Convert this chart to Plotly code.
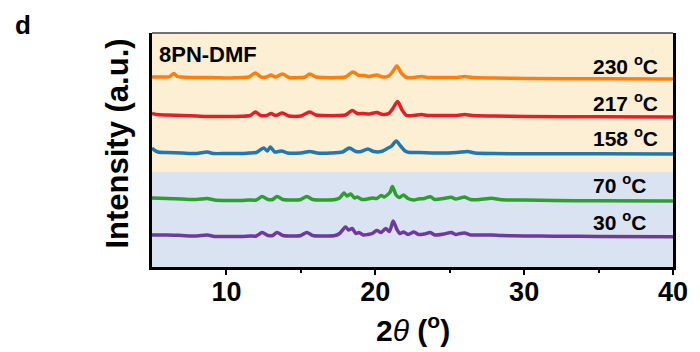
import plotly.graph_objects as go

# ---- data (2theta in degrees, intensity in a.u. relative to each pattern's baseline) ----
labels = ["230 °C", "217 °C", "158 °C", "70 °C", "30 °C"]
offsets = [188, 150, 113, 66, 30]
label_y = [202, 165, 130, 83, 46]

x_230 = [5.0, 5.5, 6.0, 6.2, 6.46, 6.7, 7.0, 8.0, 9.0, 10.0, 10.6, 11.0, 11.5, 11.95, 12.3, 12.7, 13.0, 13.3,
         13.76, 14.2, 15.0, 15.3, 15.6, 16.0, 16.5, 17.5, 18.0, 18.5, 18.9, 19.25, 19.6, 20.1, 20.5, 20.9,
         21.15, 21.45, 21.75, 22.1, 22.6, 23.1, 23.5, 24.5, 25.5, 26.0, 26.5, 28.0, 30.0, 35.0, 40.0]
y_230 = [2, 2, 2, 2.5, 5.5, 2.5, 2, 1.5, 1.5, 1, 1.2, 1.5, 2, 6, 2, 2, 4, 2,
         5, 1.5, 1.5, 2, 5, 2, 1.5, 1.5, 2, 7, 3.5, 3.5, 2.5, 4, 2, 3,
         7, 13, 6, 1.5, 1.5, 2.5, 1.5, 1.5, 1.5, 2.5, 1.5, 1, 0.5, 0.3, 0]

x_217 = [5.0, 5.3, 6.0, 7.0, 8.0, 9.0, 10.0, 11.0, 11.6, 11.95, 12.3, 12.7, 13.0, 13.3, 13.76, 14.2, 15.0,
         15.6, 16.0, 16.5, 17.5, 18.0, 18.45, 18.8, 19.2, 19.6, 20.1, 20.5, 20.9, 21.2, 21.5, 21.8, 22.1,
         22.6, 23.1, 23.5, 24.5, 25.5, 26.0, 26.5, 28.0, 30.0, 35.0, 40.0]
y_217 = [3.5, 2.5, 2, 1.5, 1, 0.5, 0.5, 0.8, 1.5, 5, 1.5, 1.5, 3.5, 1.5, 4, 1, 1,
         5, 2, 1.5, 1.5, 2, 6.5, 3.5, 3.5, 3, 4.5, 2.5, 3.5, 9, 15.5, 7, 1.5,
         1.5, 2.5, 1.5, 1.5, 1.5, 2.5, 1.5, 1, 0.5, 0.3, 0]

x_158 = [5.0, 5.15, 5.4, 6.0, 7.0, 8.0, 8.7, 9.1, 10.0, 11.0, 11.5, 12.0, 12.5, 12.75, 12.95, 13.25, 13.7,
         14.1, 15.0, 15.6, 16.1, 17.0, 17.8, 18.26, 18.7, 19.05, 19.5, 19.9, 20.4, 20.8, 21.1, 21.4, 21.7,
         22.0, 22.3, 23.0, 24.0, 25.5, 26.2, 26.7, 28.0, 30.0, 35.0, 40.0]
y_158 = [6, 4, 2, 1.5, 1, 0.5, 2, 0.5, 0.5, 0.5, 1, 1.5, 6, 3, 7, 2, 3,
         1, 1, 2.5, 1, 1, 2, 6, 2.5, 2.5, 5, 2.5, 2.5, 5.5, 8, 13, 8,
         3, 1.5, 1.5, 1, 1.5, 2.5, 1, 0.5, 0.3, 0.3, 0]

x_70 = [5.0, 6.0, 7.0, 8.0, 8.7, 9.2, 10.0, 11.0, 11.5, 12.0, 12.4, 12.8, 13.1, 13.4, 13.8, 14.5, 15.0, 15.4,
        15.8, 16.5, 17.3, 17.6, 17.9, 18.1, 18.35, 18.6, 18.8, 19.1, 19.5, 19.8, 20.1, 20.4, 20.6, 20.8, 21.0,
        21.15, 21.4, 21.6, 21.9, 22.2, 22.6, 22.9, 23.3, 23.7, 24.0, 24.6, 25.1, 25.4, 25.7, 26.0, 26.4,
        27.0, 27.8, 28.5, 30.0, 32.0, 35.0, 40.0]
y_70 = [3, 2.5, 2, 1.5, 2.5, 1, 0.5, 0.5, 1, 1, 4.5, 1.5, 1.5, 4.5, 1.5, 1, 1.5, 4.5,
        1.5, 1, 1.5, 3, 8, 5, 7, 3, 4, 1.5, 2, 3, 2.5, 5.5, 4, 6, 9,
        14.5, 6, 3.5, 6, 2.5, 1, 2, 2.5, 4.3, 1.5, 2.5, 3.7, 2, 3, 4, 1.5,
        1.5, 2.7, 1.2, 1, 0.5, 0.3, 0]

x_30 = [5.0, 6.0, 7.0, 8.0, 8.7, 9.2, 10.0, 11.0, 11.6, 12.0, 12.4, 12.8, 13.1, 13.4, 13.8, 14.5, 15.0, 15.4,
        15.8, 16.5, 17.3, 17.6, 18.0, 18.2, 18.45, 18.7, 18.9, 19.2, 19.5, 19.8, 20.1, 20.4, 20.7, 20.95,
        21.2, 21.45, 21.65, 21.9, 22.2, 22.6, 22.9, 23.3, 23.7, 24.0, 24.6, 25.1, 25.4, 25.7, 26.0, 26.4,
        27.0, 27.8, 28.5, 30.0, 32.0, 35.0, 40.0]
y_30 = [2, 2, 1.5, 1, 2, 0.5, 0.5, 0.5, 1, 1, 4.5, 1.5, 1.5, 4.5, 1.5, 1, 1.5, 4.5,
        1.5, 1, 1.5, 3.5, 10, 7, 8.5, 3.5, 4.5, 2, 2.5, 3.5, 6.5, 4.5, 8.5, 5.5,
        16, 7.5, 3.5, 5, 2.5, 5, 2.5, 3, 4.5, 2, 3, 4.5, 2.5, 3.5, 4, 2,
        2, 2, 1.5, 1, 0.8, 0.5, 0.3]

xs = [x_230, x_217, x_158, x_70, x_30]
ys = [y_230, y_217, y_158, y_70, y_30]
colors = ["#FF7F0E", "#E41E26", "#1F77B4", "#2CA02C", "#6F3A9E"]

x_ticks = [10, 20, 30, 40]
x_range = [5, 40]
y_range = [0, 234]
split_level = 95  # boundary between heated (beige) and low-T (blue) regions

FONT = "Liberation Sans, Arial, sans-serif"

fig = go.Figure()
for x, y, off, col, lab in zip(xs, ys, offsets, colors, labels):
    fig.add_trace(go.Scatter(x=x, y=[v + off for v in y], mode="lines", name=lab,
                             line=dict(color=col, width=3.5, shape="spline", smoothing=0.7),
                             showlegend=False, hoverinfo="skip"))

# background bands
fig.add_shape(type="rect", xref="x", yref="y", x0=x_range[0], x1=x_range[1], y0=split_level, y1=y_range[1],
              fillcolor="#FDEFD4", line_width=0, layer="below")
fig.add_shape(type="rect", xref="x", yref="y", x0=x_range[0], x1=x_range[1], y0=y_range[0], y1=split_level,
              fillcolor="#DAE3F1", line_width=0, layer="below")
# top frame line (thinner)
fig.add_shape(type="line", xref="paper", yref="paper", x0=0, x1=1, y0=1, y1=1,
              line=dict(color="#444444", width=1.5))

# temperature labels
for lab, ly in zip(labels, label_y):
    num, unit = lab.split(" ")
    fig.add_annotation(x=34.5, y=ly, xref="x", yref="y", xanchor="left", yanchor="middle",
                       text=f"<b>{num} <sup>o</sup>C</b>", showarrow=False,
                       font=dict(family=FONT, size=21, color="black"))

fig.add_annotation(x=0.01, y=1.0, xref="paper", yref="paper", xanchor="left", yanchor="top", yshift=-7,
                   text="<b>8PN-DMF</b>", showarrow=False, font=dict(family=FONT, size=22, color="black"))

# axis titles and panel letter
fig.add_annotation(x=0.5, y=-0.352, xref="paper", yref="paper", xanchor="center", yanchor="bottom",
                   text="<b>2</b><i>θ</i><b> (<sup>o</sup>)</b>", showarrow=False,
                   font=dict(family=FONT, size=30, color="black"))
fig.add_annotation(x=-0.066, y=0.526, xref="paper", yref="paper", xanchor="center", yanchor="middle",
                   text="<b>Intensity (a.u.)</b>", textangle=-90, showarrow=False,
                   font=dict(family=FONT, size=31, color="black"))
fig.add_annotation(x=-0.266, y=1.035, xref="paper", yref="paper", xanchor="left", yanchor="middle",
                   text="<b>d</b>", showarrow=False, font=dict(family=FONT, size=26, color="black"))

fig.update_layout(
    width=700, height=352,
    margin=dict(l=152, r=21, t=33, b=85),
    paper_bgcolor="white", plot_bgcolor="white",
    font=dict(family=FONT, color="black"),
)
fig.update_xaxes(range=x_range, tickvals=x_ticks, ticks="outside", ticklen=5, tickwidth=2, tickcolor="black",
                 showline=True, linewidth=2.5, linecolor="black", showgrid=False, zeroline=False,
                 ticklabelstandoff=-6,
                 tickfont=dict(family=FONT, size=27, color="black", weight="bold"),
                 minor=dict(tickvals=[15, 25, 35], ticks="outside", ticklen=3, tickwidth=2, tickcolor="black"))
fig.update_yaxes(range=y_range, showticklabels=False, ticks="", showline=True, linewidth=2.5,
                 linecolor="black", mirror=True, showgrid=False, zeroline=False)

fig.write_html("out.html", config={"displayModeBar": False},
               post_script="document.body.style.margin='0';document.body.style.padding='0';")
